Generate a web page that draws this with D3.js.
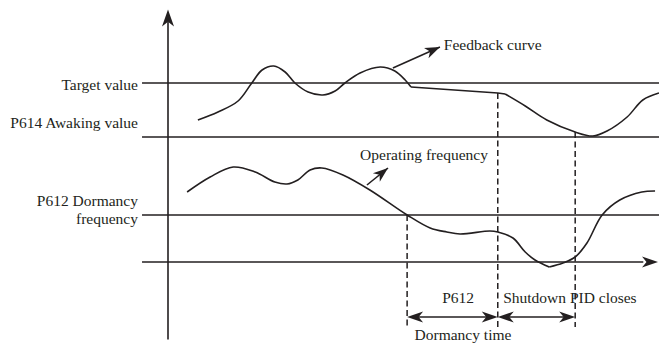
<!DOCTYPE html>
<html>
<head>
<meta charset="utf-8">
<script src="https://cdn.jsdelivr.net/npm/d3@7"></script>
<style>
  body { margin: 0; background: #fff; }
  svg { display: block; }
  text { font-family: "Liberation Serif", "Times New Roman", Times, serif; font-size: 15.5px; fill: #231f20; }
</style>
</head>
<body>
<svg id="chart" width="659" height="344"></svg>
<script>
// time (0..100) vs. value (0..100)
var feedbackRise = [[6.1,56.8],[10.2,60],[14.3,64.4],[17.1,71.6],[19.2,76.8],[21.6,78.4],[23.9,76],[25.9,71.6],
  [28.6,68],[31.6,66.8],[34.1,68.4],[36.1,71.6],[39.2,75.6],[43.3,78],[46.3,76.4],[48.4,72.8],[49.6,70]];
var feedbackHold = [[49.6,70],[67.3,67.6],[68.8,67.2]];
var feedbackDip = [[68.8,67.2],[72.9,62.4],[77.3,56.8],[83.1,52],[86.7,50.4],[89.6,52.4],[93.7,58],[96.9,64.8],[100.2,67.6]];

var freqFall = [[3.9,28],[8.6,34],[13.3,38],[17.8,36],[21.8,32],[24.3,31.2],[26.5,32.8],[29,36.8],[31.4,37.6],
  [35.7,34.8],[41.2,28.8],[48.8,18.8],[53.5,13.6],[56.9,12],[59.6,11.2],[65.7,12.4],[67.3,12],[70.4,9.6],
  [72.9,4],[74.9,0.8],[77.8,-2]];
var freqRise = [[77.8,-2],[80.6,-0.4],[83.1,2],[85.5,7.6],[88.6,18.8],[92.2,24.8],[96.7,28],[99.4,28.4]];

var levelNames = ["Target value", "P614 Awaking value", "P612 Dormancy frequency"];
var levelValues = [71.6, 50, 18.8];

// event times: dormancy starts, P612 elapsed (shutdown), PID closes
var eventNames = ["start", "P612", "PID"];
var eventTimes = [48.8, 67.3, 83.1];

var ink = "#231f20";
var svg = d3.select("#chart");
var x = d3.scaleLinear().domain([0, 100]).range([168, 658]);
var y = d3.scaleLinear().domain([0, 101]).range([262, 9.5]);

function arrowHead(g, x1, y1, x2, y2, len, hw) {
  var a = Math.atan2(y2 - y1, x2 - x1);
  var c = Math.cos(a), s = Math.sin(a);
  function p(u, v) { return [x2 + u * c - v * s, y2 + u * s + v * c]; }
  var pts = [p(0, 0), p(-len, -hw), p(-len * 0.72, 0), p(-len, hw)];
  g.append("path")
    .attr("d", "M" + pts.join("L") + "Z")
    .attr("fill", ink);
}

// reference levels
levelValues.forEach(function (v) {
  svg.append("line")
    .attr("x1", x(-5.3)).attr("x2", 659)
    .attr("y1", y(v)).attr("y2", y(v))
    .attr("stroke", ink).attr("stroke-width", 1.6);
});

svg.append("text").attr("x", 138).attr("y", y(levelValues[0]) + 7)
  .attr("text-anchor", "end").text(levelNames[0]);
svg.append("text").attr("x", 138).attr("y", y(levelValues[1]) - 9)
  .attr("text-anchor", "end").text(levelNames[1]);
svg.append("text").attr("x", 138).attr("y", y(levelValues[2]) - 9)
  .attr("text-anchor", "end").text("P612 Dormancy");
svg.append("text").attr("x", 138).attr("y", y(levelValues[2]) + 9)
  .attr("text-anchor", "end").text("frequency");

// axes
svg.append("line")
  .attr("x1", x(0)).attr("x2", x(0))
  .attr("y1", y(-31)).attr("y2", y(96))
  .attr("stroke", ink).attr("stroke-width", 1.6);
arrowHead(svg, x(0), y(0), x(0), y(101), 17, 6);

svg.append("line")
  .attr("x1", x(-5.3)).attr("x2", x(97))
  .attr("y1", y(0)).attr("y2", y(0))
  .attr("stroke", ink).attr("stroke-width", 1.6);
arrowHead(svg, x(0), y(0), x(100), y(0), 16, 5.5);

// dashed event lines
var dashTops = [18.8, 67.6, 52];
eventTimes.forEach(function (t, i) {
  svg.append("line")
    .attr("x1", x(t)).attr("x2", x(t))
    .attr("y1", y(dashTops[i])).attr("y2", y(-26))
    .attr("stroke", ink).attr("stroke-width", 1.5)
    .attr("stroke-dasharray", "6,3.5");
});

// curves
var curve = d3.line().x(function (d) { return x(d[0]); }).y(function (d) { return y(d[1]); })
  .curve(d3.curveCatmullRom.alpha(0.5));
var straight = d3.line().x(function (d) { return x(d[0]); }).y(function (d) { return y(d[1]); });

[[feedbackRise, curve], [feedbackHold, straight], [feedbackDip, curve], [freqFall, curve], [freqRise, curve]]
  .forEach(function (s) {
    svg.append("path")
      .attr("d", s[1](s[0]))
      .attr("fill", "none")
      .attr("stroke", ink)
      .attr("stroke-width", 1.6);
  });

// callout arrows
function callout(t1, v1, t2, v2) {
  svg.append("line")
    .attr("x1", x(t1)).attr("y1", y(v1))
    .attr("x2", x(t2)).attr("y2", y(v2))
    .attr("stroke", ink).attr("stroke-width", 1.6);
  arrowHead(svg, x(t1), y(v1), x(t2), y(v2), 15, 5.5);
}
callout(45.9, 77.6, 55.5, 86);
callout(40.6, 30.8, 44.9, 37.6);

svg.append("text").attr("x", x(56.3)).attr("y", y(84.8)).text("Feedback curve");
svg.append("text").attr("x", x(39.2)).attr("y", y(40.8)).text("Operating frequency");

// interval arrows
function interval(t1, t2, v) {
  svg.append("line")
    .attr("x1", x(t1) + 6).attr("x2", x(t2) - 6)
    .attr("y1", y(v)).attr("y2", y(v))
    .attr("stroke", ink).attr("stroke-width", 1.6);
  arrowHead(svg, x(t2), y(v), x(t1), y(v), 16, 5.5);
  arrowHead(svg, x(t1), y(v), x(t2), y(v), 16, 5.5);
}
interval(eventTimes[0], eventTimes[1], -22);
interval(eventTimes[1], eventTimes[2], -22);

svg.append("text").attr("x", x(59.2)).attr("y", y(-16.4))
  .attr("text-anchor", "middle").text("P612");
svg.append("text").attr("x", x(68.4)).attr("y", y(-16.4)).text("Shutdown PID closes");
svg.append("text").attr("x", x(60.2)).attr("y", y(-31))
  .attr("text-anchor", "middle").text("Dormancy time");
</script>
</body>
</html>
